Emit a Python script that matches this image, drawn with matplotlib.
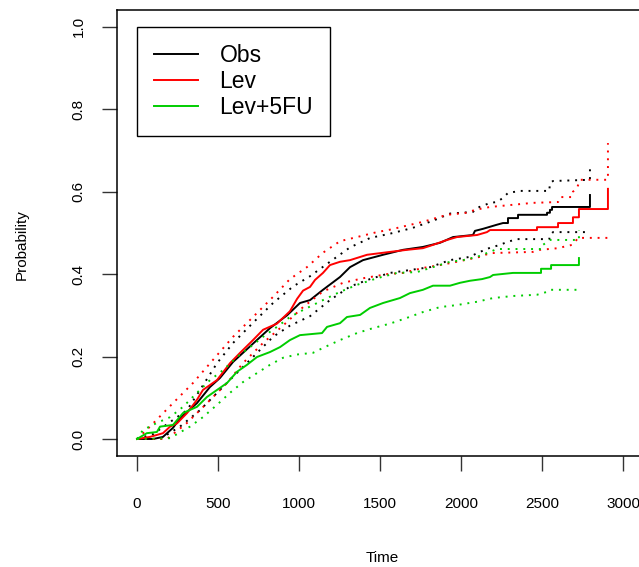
import matplotlib
matplotlib.use("Agg")
from matplotlib import pyplot as plt

plt.rcParams["font.family"] = ["Liberation Sans", "DejaVu Sans"]

# curve vertices (time in days, cumulative probability)
obs_t = [0, 100, 160, 222, 265, 370, 450, 512, 593, 654, 740, 821, 926, 1006, 1068, 1148, 1253, 1315,
         1395, 1519, 1642, 1765, 1870, 1951, 2074, 2086, 2136, 2179, 2222, 2259, 2290, 2290, 2352, 2352,
         2531, 2531, 2549, 2549, 2562, 2562, 2796, 2796]
obs_p = [0, 0, 0.005, 0.027, 0.05, 0.087, 0.126, 0.148, 0.187, 0.209, 0.24, 0.269, 0.30, 0.33, 0.337,
         0.362, 0.393, 0.417, 0.434, 0.447, 0.459, 0.466, 0.476, 0.49, 0.495, 0.505, 0.51, 0.515, 0.52,
         0.524, 0.524, 0.536, 0.536, 0.544, 0.544, 0.549, 0.549, 0.556, 0.556, 0.563, 0.563, 0.592]

lev_t = [0, 80, 160, 204, 247, 309, 370, 407, 494, 574, 636, 716, 778, 864, 944, 988, 1025, 1068, 1099,
         1148, 1191, 1253, 1315, 1420, 1562, 1667, 1765, 1827, 1914, 1975, 2099, 2160, 2179, 2469, 2469,
         2599, 2599, 2691, 2691, 2728, 2728, 2907, 2907]
lev_p = [0, 0.005, 0.014, 0.03, 0.038, 0.063, 0.095, 0.119, 0.143, 0.184, 0.209, 0.24, 0.265, 0.28,
         0.31, 0.34, 0.36, 0.369, 0.386, 0.403, 0.422, 0.43, 0.434, 0.447, 0.454, 0.459, 0.463, 0.471,
         0.483, 0.49, 0.495, 0.502, 0.507, 0.507, 0.514, 0.514, 0.524, 0.524, 0.538, 0.538, 0.558,
         0.558, 0.607]

fu_t = [0, 60, 123, 142, 222, 284, 370, 432, 494, 556, 617, 679, 741, 821, 883, 944, 1006, 1142, 1173,
        1253, 1296, 1377, 1438, 1519, 1623, 1685, 1765, 1827, 1932, 1994, 2056, 2130, 2179, 2198, 2321,
        2494, 2494, 2556, 2556, 2728, 2728]
fu_p = [0, 0.014, 0.017, 0.03, 0.034, 0.063, 0.078, 0.102, 0.119, 0.136, 0.163, 0.18, 0.199, 0.211,
        0.223, 0.24, 0.252, 0.257, 0.272, 0.281, 0.296, 0.301, 0.318, 0.33, 0.342, 0.354, 0.362, 0.372,
        0.372, 0.379, 0.384, 0.388, 0.393, 0.398, 0.403, 0.403, 0.413, 0.413, 0.422, 0.422, 0.439]

# confidence bands
obs_up_t = [0, 100, 200, 309, 389, 494, 593, 716, 840, 963, 1068, 1191, 1315, 1440, 1560, 1700, 1830,
            1932, 2074, 2099, 2136, 2179, 2222, 2259, 2290, 2364, 2545, 2549, 2568, 2796, 2796]
obs_up_p = [0, 0.012, 0.04, 0.07, 0.119, 0.184, 0.233, 0.282, 0.33, 0.37, 0.395, 0.43, 0.465, 0.488,
            0.498, 0.512, 0.53, 0.547, 0.551, 0.561, 0.566, 0.573, 0.575, 0.585, 0.597, 0.602, 0.602,
            0.621, 0.626, 0.629, 0.665]
obs_lo_t = [0, 142, 265, 389, 494, 593, 716, 840, 944, 1068, 1191, 1315, 1438, 1562, 1685, 1809, 1932,
            2056, 2099, 2179, 2241, 2284, 2346, 2545, 2549, 2568, 2796]
obs_lo_p = [0, 0, 0.03, 0.07, 0.112, 0.151, 0.199, 0.248, 0.275, 0.298, 0.337, 0.37, 0.388, 0.403,
            0.41, 0.417, 0.434, 0.442, 0.451, 0.464, 0.471, 0.478, 0.485, 0.485, 0.495, 0.502, 0.502]

lev_up_t = [0, 80, 222, 346, 469, 593, 716, 840, 944, 1049, 1148, 1253, 1358, 1481, 1562, 1765, 1914,
            2037, 2086, 2179, 2444, 2599, 2611, 2685, 2691, 2716, 2735, 2907, 2907]
lev_up_p = [0, 0.03, 0.087, 0.136, 0.192, 0.248, 0.296, 0.345, 0.388, 0.417, 0.452, 0.48, 0.49, 0.502,
            0.508, 0.527, 0.544, 0.549, 0.556, 0.563, 0.573, 0.575, 0.587, 0.587, 0.6, 0.609, 0.629,
            0.629, 0.718]
lev_lo_t = [0, 185, 309, 432, 556, 654, 778, 901, 1025, 1148, 1272, 1395, 1543, 1642, 1765, 1870, 1975,
            2117, 2179, 2444, 2488, 2599, 2630, 2685, 2704, 2722, 2907]
lev_lo_p = [0, 0, 0.039, 0.087, 0.136, 0.184, 0.233, 0.275, 0.32, 0.358, 0.379, 0.39, 0.4, 0.403, 0.415,
            0.422, 0.43, 0.442, 0.451, 0.454, 0.459, 0.463, 0.466, 0.471, 0.478, 0.488, 0.488]

fu_up_t = [0, 37, 123, 204, 284, 370, 451, 531, 617, 698, 778, 864, 944, 1025, 1148, 1253, 1358, 1481,
           1605, 1728, 1827, 1932, 2012, 2099, 2179, 2222, 2500, 2506, 2549, 2728, 2728]
fu_up_p = [0, 0.022, 0.039, 0.053, 0.078, 0.112, 0.143, 0.167, 0.199, 0.223, 0.248, 0.272, 0.296,
           0.313, 0.337, 0.357, 0.374, 0.39, 0.403, 0.405, 0.417, 0.43, 0.434, 0.442, 0.454, 0.461,
           0.461, 0.471, 0.483, 0.483, 0.507]
fu_lo_t = [0, 204, 327, 407, 494, 574, 654, 741, 821, 901, 988, 1086, 1148, 1253, 1358, 1457, 1562, 1667,
           1765, 1870, 1975, 2099, 2198, 2321, 2469, 2531, 2549, 2728]
fu_lo_p = [0, 0.002, 0.03, 0.053, 0.083, 0.112, 0.138, 0.16, 0.18, 0.197, 0.205, 0.209, 0.221, 0.24,
           0.257, 0.269, 0.28, 0.294, 0.308, 0.32, 0.325, 0.333, 0.342, 0.347, 0.35, 0.357, 0.362, 0.362]

labels = ["Obs", "Lev", "Lev+5FU"]
colors = ["black", "#FF0000", "#00CD00"]

fig = plt.figure(figsize=(6.39, 5.67), dpi=100)
ax = fig.add_axes([117 / 639, 1 - 456 / 567, (655 - 117) / 639, (456 - 10) / 567])

mains = [(obs_t, obs_p), (lev_t, lev_p), (fu_t, fu_p)]
bands = [[(obs_up_t, obs_up_p), (obs_lo_t, obs_lo_p)],
         [(lev_up_t, lev_up_p), (lev_lo_t, lev_lo_p)],
         [(fu_up_t, fu_up_p), (fu_lo_t, fu_lo_p)]]

for (t, p), band, col, lab in zip(mains, bands, colors, labels):
    ax.plot(t, p, color=col, lw=1.4, label=lab)
    for bt, bp in band:
        ax.plot(bt, bp, color=col, lw=1.4, linestyle=(0, (1, 3)))

ax.set_xlim(-123.5, 3197.5)
ax.set_ylim(-0.0413, 1.041)
ax.set_xticks([0, 500, 1000, 1500, 2000, 2500, 3000])
ax.set_yticks([0.0, 0.2, 0.4, 0.6, 0.8, 1.0])
ax.set_yticklabels(["0.0", "0.2", "0.4", "0.6", "0.8", "1.0"], rotation=90, va="center")
ax.tick_params(axis="both", length=10.5, width=1, labelsize=11, color="#333333")
ax.tick_params(axis="x", pad=19)
ax.tick_params(axis="y", pad=12)
for s in ax.spines.values():
    s.set_linewidth(1.1)

fig.text(22 / 639, 1 - 245 / 567, "Probability", rotation=90, ha="center", va="center", fontsize=11)
fig.text(382 / 639, 1 - 558 / 567, "Time", ha="center", va="center", fontsize=11)

leg = ax.legend(loc="upper left", bbox_to_anchor=(137 / 639, 1 - 27 / 567),
                bbox_transform=fig.transFigure, fontsize=16.5, frameon=True, fancybox=False,
                edgecolor="black", framealpha=1, borderaxespad=0, borderpad=0.75,
                handlelength=1.9, handletextpad=0.95, labelspacing=0.12)
leg.get_frame().set_linewidth(1.0)

fig.savefig("out.png", dpi=100)
